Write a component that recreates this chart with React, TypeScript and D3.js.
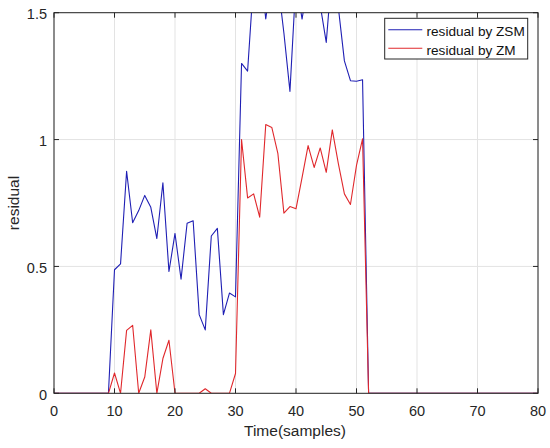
import React from "react";
import * as d3 from "d3";

const timeSteps: number[] = d3.range(0, 81);

const zsmRes: number[] = [
  0, 0, 0, 0, 0, 0, 0, 0, 0, 0,
  0.487, 0.51, 0.875, 0.672, 0.72, 0.78, 0.733, 0.61, 0.83, 0.48,
  0.63, 0.45, 0.67, 0.68, 0.31, 0.25, 0.62, 0.65, 0.31, 0.395,
  0.38, 1.3, 1.27, 1.63, 1.7, 1.475, 1.65, 1.62, 1.42, 1.19,
  1.63, 1.475, 1.62, 1.65, 1.53, 1.383, 1.68, 1.52, 1.31, 1.232,
  1.23, 1.236, 0, 0, 0, 0, 0, 0, 0, 0,
  0, 0, 0, 0, 0, 0, 0, 0, 0, 0,
  0, 0, 0, 0, 0, 0, 0, 0, 0, 0,
  0,
];

const zmRes: number[] = [
  0, 0, 0, 0, 0, 0, 0, 0, 0, 0,
  0.08, 0, 0.248, 0.268, 0, 0.064, 0.25, 0, 0.137, 0.209,
  0, 0, 0, 0, 0, 0.018, 0, 0, 0, 0,
  0.078, 1.0, 0.77, 0.786, 0.694, 1.059, 1.048, 0.946, 0.71, 0.736,
  0.727, 0.85, 0.976, 0.89, 0.967, 0.871, 1.038, 0.905, 0.786, 0.744,
  0.898, 1.003, 0, 0, 0, 0, 0, 0, 0, 0,
  0, 0, 0, 0, 0, 0, 0, 0, 0, 0,
  0, 0, 0, 0, 0, 0, 0, 0, 0, 0,
  0,
];

const xTicks: number[] = [0, 10, 20, 30, 40, 50, 60, 70, 80];
const yTicks: number[] = [0, 0.5, 1, 1.5];
const seriesNames: string[] = ["residual by ZSM", "residual by ZM"];
const seriesColors: string[] = ["#1f1fb4", "#e0282c"];

const W = 550;
const H = 448;
const L = 54;
const R = 538;
const T = 12.7;
const B = 393.3;

export default function App() {
  const x = d3.scaleLinear().domain([0, 80]).range([L, R]);
  const y = d3.scaleLinear().domain([0, 1.5]).range([B, T]);
  const line = d3
    .line<number>()
    .x((_, i) => x(timeSteps[i]))
    .y((d) => y(d));
  const font = "'Liberation Sans', Arial, Helvetica, sans-serif";
  const axisColor = "#262626";
  const series = [zsmRes, zmRes];
  return (
    <svg
      width={W}
      height={H}
      style={{ position: "absolute", left: 0, top: 0, background: "#fff" }}
      fontFamily={font}
    >
      <defs>
        <clipPath id="plotClip">
          <rect x={L} y={T} width={R - L} height={B - T} />
        </clipPath>
      </defs>
      <rect x={0} y={0} width={W} height={H} fill="#fff" />
      {/* grid */}
      {xTicks.map((t) => (
        <line key={"gx" + t} x1={x(t)} x2={x(t)} y1={T} y2={B} stroke="#e3e3e3" strokeWidth={1} />
      ))}
      {yTicks.map((t) => (
        <line key={"gy" + t} x1={L} x2={R} y1={y(t)} y2={y(t)} stroke="#e3e3e3" strokeWidth={1} />
      ))}
      {/* series */}
      <g clipPath="url(#plotClip)">
        {series.map((s, i) => (
          <path
            key={"s" + i}
            d={line(s) || ""}
            fill="none"
            stroke={seriesColors[i]}
            strokeWidth={1.1}
            strokeLinejoin="round"
          />
        ))}
      </g>
      {/* box */}
      <rect x={L} y={T} width={R - L} height={B - T} fill="none" stroke={axisColor} strokeWidth={1} />
      {/* ticks */}
      {xTicks.map((t) => (
        <g key={"tx" + t}>
          <line x1={x(t)} x2={x(t)} y1={B} y2={B - 5} stroke={axisColor} />
          <line x1={x(t)} x2={x(t)} y1={T} y2={T + 5} stroke={axisColor} />
          <text x={x(t)} y={B + 23} textAnchor="middle" fontSize={14.5} fill={axisColor}>
            {t}
          </text>
        </g>
      ))}
      {yTicks.map((t) => (
        <g key={"ty" + t}>
          <line x1={L} x2={L + 5} y1={y(t)} y2={y(t)} stroke={axisColor} />
          <line x1={R} x2={R - 5} y1={y(t)} y2={y(t)} stroke={axisColor} />
          <text x={L - 7} y={y(t) + 6.5} textAnchor="end" fontSize={14.5} fill={axisColor}>
            {t}
          </text>
        </g>
      ))}
      {/* axis labels */}
      <text x={295} y={436} textAnchor="middle" fontSize={15.5} fill={axisColor}>
        Time(samples)
      </text>
      <text
        transform={`translate(18.5, 203) rotate(-90)`}
        textAnchor="middle"
        fontSize={15.5}
        fill={axisColor}
      >
        residual
      </text>
      {/* legend */}
      <rect x={384.7} y={18.3} width={143} height={40.7} fill="#fff" stroke={axisColor} strokeWidth={1} />
      {seriesNames.map((n, i) => (
        <g key={"lg" + i}>
          <line
            x1={388.3}
            x2={422.3}
            y1={29.7 + i * 18.6}
            y2={29.7 + i * 18.6}
            stroke={seriesColors[i]}
            strokeWidth={1.1}
          />
          <text x={426.5} y={36.4 + i * 18.3} fontSize={13.6} fill="#111">
            {n}
          </text>
        </g>
      ))}
    </svg>
  );
}
